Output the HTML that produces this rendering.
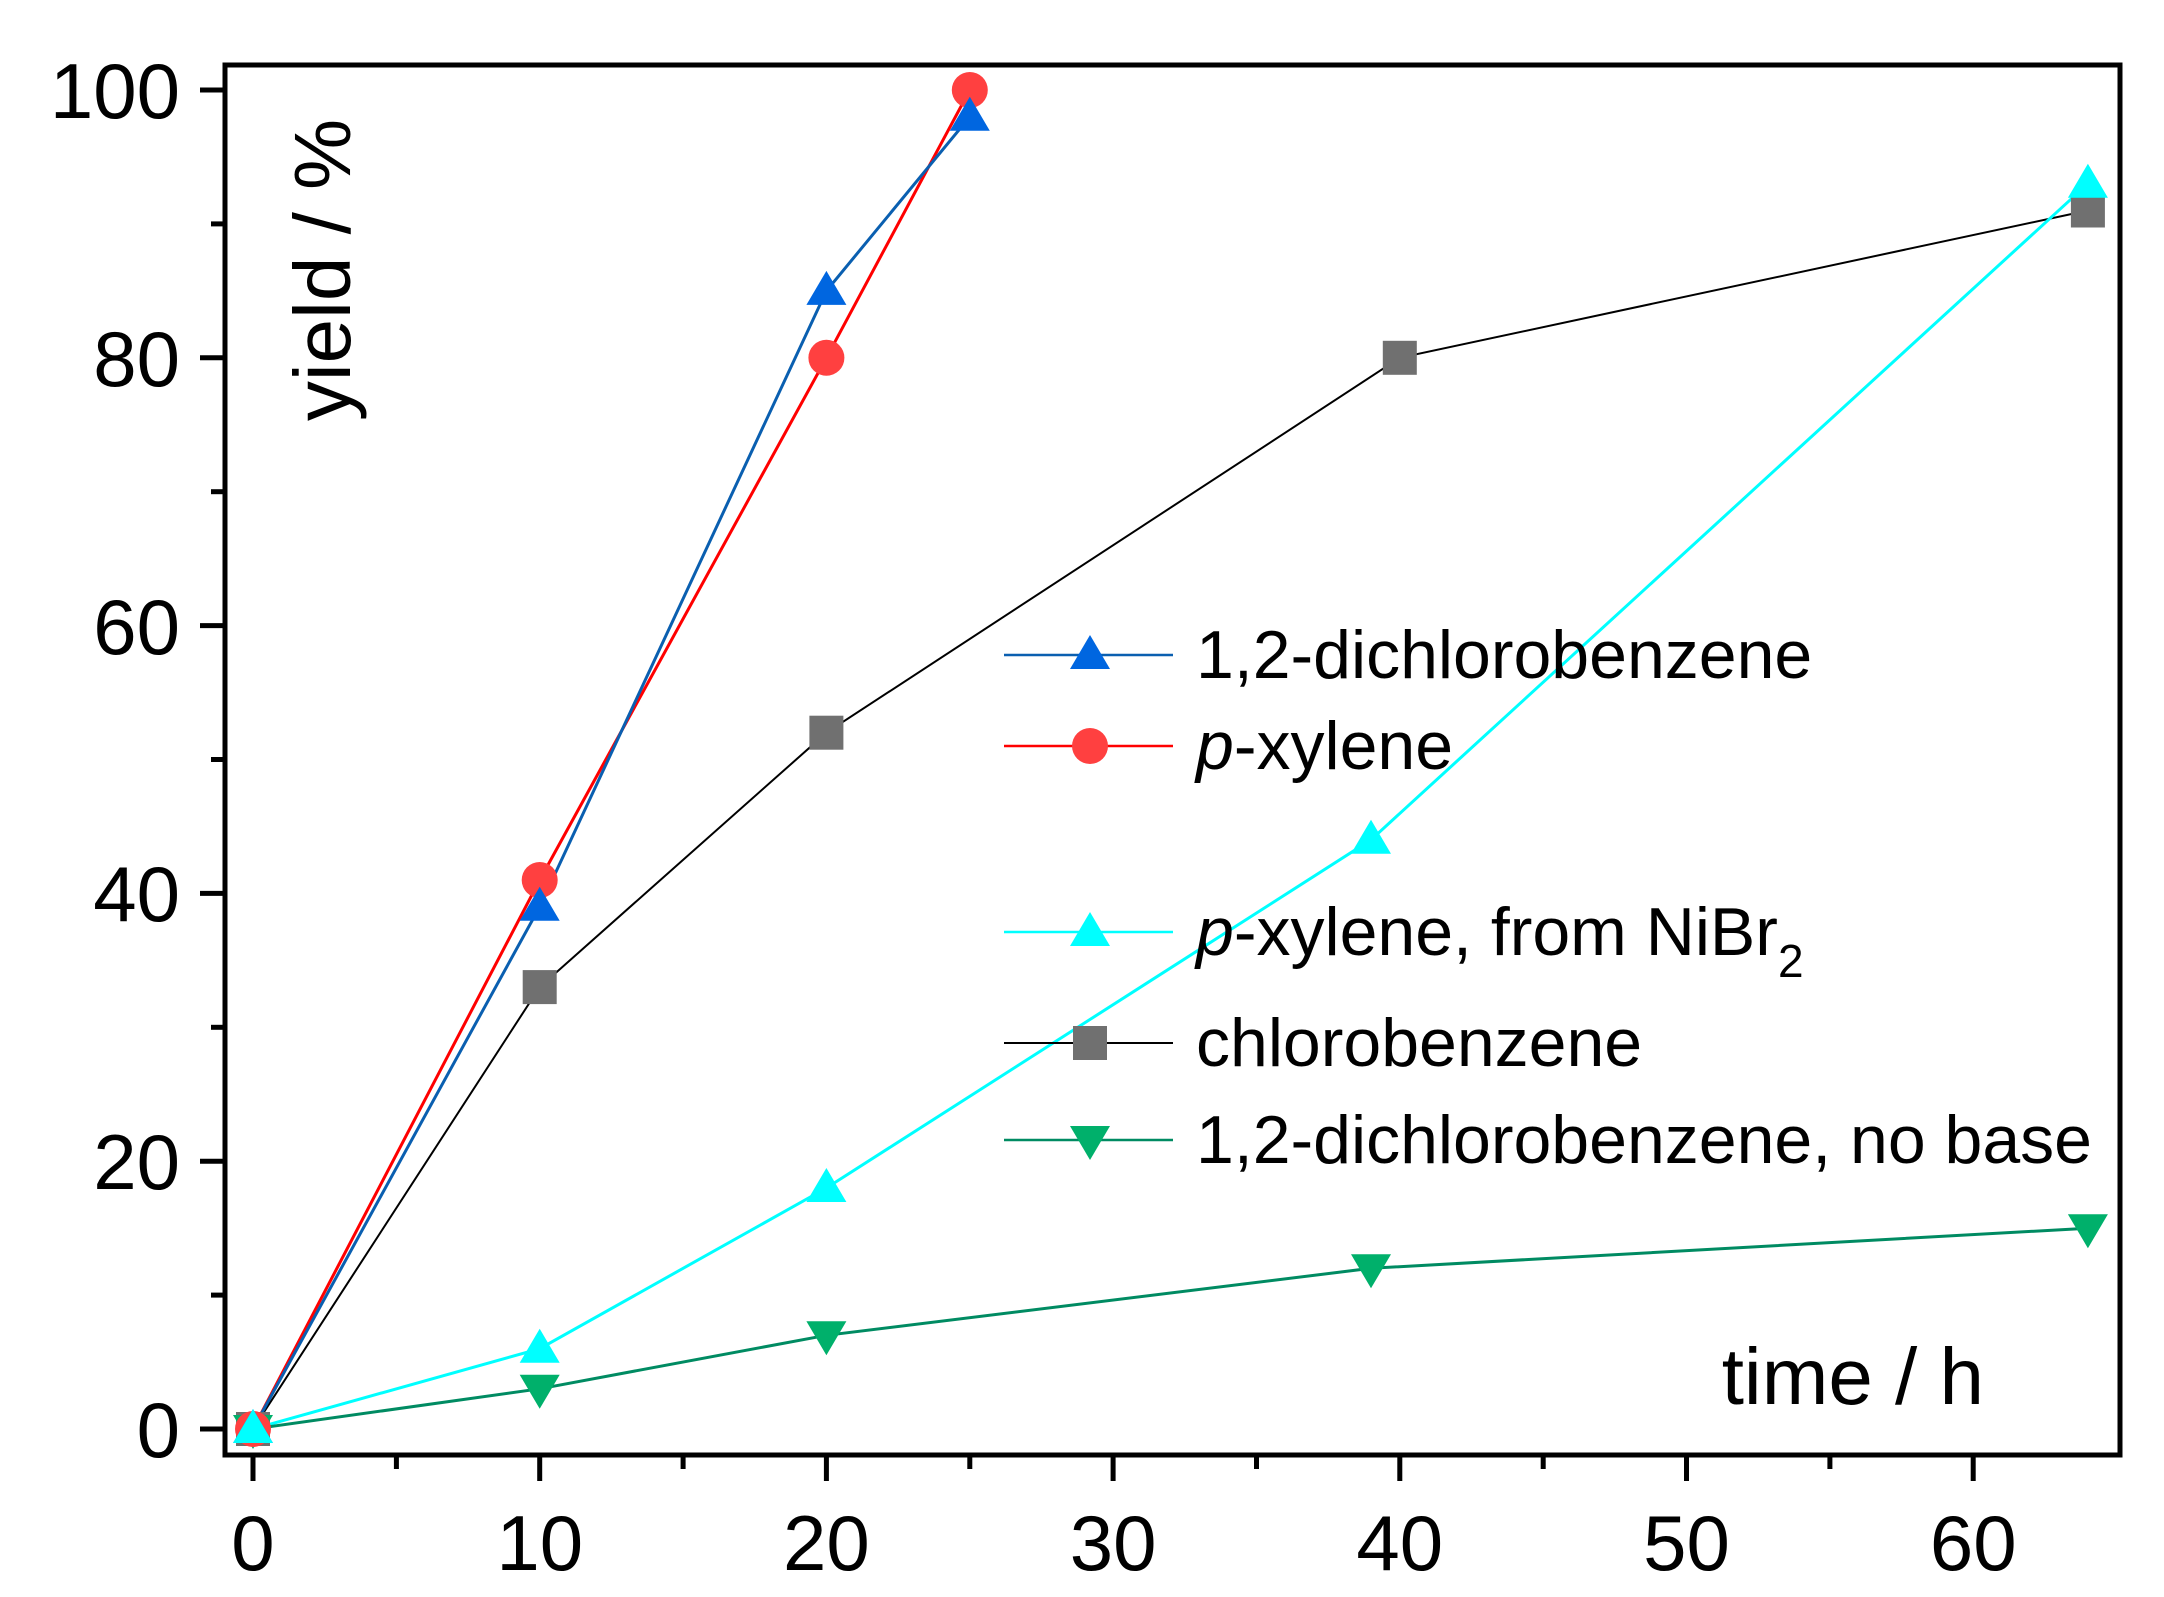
<!DOCTYPE html>
<html><head><meta charset="utf-8"><style>html,body{margin:0;padding:0;background:#fff}</style></head>
<body>
<svg width="2164" height="1592" viewBox="0 0 2164 1592" xmlns="http://www.w3.org/2000/svg" font-family="Liberation Sans, Arial, sans-serif">
<rect width="2164" height="1592" fill="#fff"/>
<rect x="225" y="65" width="1895" height="1390" fill="none" stroke="#000" stroke-width="5"/>
<g stroke="#000" stroke-width="5">
<line x1="200" y1="1429" x2="225" y2="1429"/><line x1="200" y1="1161.2" x2="225" y2="1161.2"/><line x1="200" y1="893.4" x2="225" y2="893.4"/><line x1="200" y1="625.6" x2="225" y2="625.6"/><line x1="200" y1="357.8" x2="225" y2="357.8"/><line x1="200" y1="90" x2="225" y2="90"/>
<line x1="211" y1="1295.1" x2="225" y2="1295.1"/><line x1="211" y1="1027.3" x2="225" y2="1027.3"/><line x1="211" y1="759.5" x2="225" y2="759.5"/><line x1="211" y1="491.7" x2="225" y2="491.7"/><line x1="211" y1="223.9" x2="225" y2="223.9"/>
<line x1="253" y1="1455" x2="253" y2="1481"/><line x1="539.7" y1="1455" x2="539.7" y2="1481"/><line x1="826.4" y1="1455" x2="826.4" y2="1481"/><line x1="1113.1" y1="1455" x2="1113.1" y2="1481"/><line x1="1399.8" y1="1455" x2="1399.8" y2="1481"/><line x1="1686.5" y1="1455" x2="1686.5" y2="1481"/><line x1="1973.2" y1="1455" x2="1973.2" y2="1481"/>
<line x1="396.4" y1="1455" x2="396.4" y2="1469"/><line x1="683.1" y1="1455" x2="683.1" y2="1469"/><line x1="969.8" y1="1455" x2="969.8" y2="1469"/><line x1="1256.5" y1="1455" x2="1256.5" y2="1469"/><line x1="1543.2" y1="1455" x2="1543.2" y2="1469"/><line x1="1829.9" y1="1455" x2="1829.9" y2="1469"/>
</g>
<g font-size="78" text-anchor="end" fill="#000">
<text x="180" y="1457">0</text><text x="180" y="1189">20</text><text x="180" y="921">40</text><text x="180" y="654">60</text><text x="180" y="386">80</text><text x="180" y="118">100</text>
</g>
<g font-size="78" text-anchor="middle" fill="#000">
<text x="253" y="1570">0</text><text x="539.7" y="1570">10</text><text x="826.4" y="1570">20</text><text x="1113.1" y="1570">30</text><text x="1399.8" y="1570">40</text><text x="1686.5" y="1570">50</text><text x="1973.2" y="1570">60</text>
</g>
<text x="1984" y="1404" font-size="80" text-anchor="end">time / h</text>
<text transform="translate(350,270) rotate(-90)" font-size="80" text-anchor="middle">yield / %</text>
<polyline points="253,1429 539.7,987.1 826.4,732.7 1399.8,357.8 2087.9,210.5" fill="none" stroke="#000" stroke-width="2"/>
<polyline points="253,1429 539.7,1348.7 826.4,1188 1371,839.8 2087.9,183.7" fill="none" stroke="#00ffff" stroke-width="3"/>
<polyline points="253,1429 539.7,1388.8 826.4,1335.3 1371,1268.3 2087.9,1228.2" fill="none" stroke="#008b62" stroke-width="3"/>
<polyline points="253,1429 539.7,880 826.4,357.8 969.8,90" fill="none" stroke="#ff0000" stroke-width="3"/>
<polyline points="253,1429 539.7,906.8 826.4,290.9 969.8,116.8" fill="none" stroke="#0a5fb0" stroke-width="3"/>
<g fill="#707070">
<rect x="236" y="1412" width="34" height="34"/><rect x="522.7" y="970.1" width="34" height="34"/><rect x="809.4" y="715.7" width="34" height="34"/><rect x="1382.8" y="340.8" width="34" height="34"/><rect x="2070.9" y="193.5" width="34" height="34"/>
</g>
<g fill="#00b06b">
<polygon points="233,1415 273,1415 253,1449"/><polygon points="519.7,1374.8 559.7,1374.8 539.7,1408.8"/><polygon points="806.4,1321.3 846.4,1321.3 826.4,1355.3"/><polygon points="1351,1254.3 1391,1254.3 1371,1288.3"/><polygon points="2067.9,1214.2 2107.9,1214.2 2087.9,1248.2"/>
</g>
<g fill="#ff4040">
<circle cx="253" cy="1429" r="18"/><circle cx="539.7" cy="880" r="18"/><circle cx="826.4" cy="357.8" r="18"/><circle cx="969.8" cy="90" r="18"/>
</g>
<g fill="#0066e0">
<polygon points="233,1443 273,1443 253,1409"/><polygon points="519.7,920.8 559.7,920.8 539.7,886.8"/><polygon points="806.4,304.9 846.4,304.9 826.4,270.9"/><polygon points="949.8,130.8 989.8,130.8 969.8,96.8"/>
</g>
<g fill="#00ffff">
<polygon points="233,1443 273,1443 253,1409"/><polygon points="519.7,1362.7 559.7,1362.7 539.7,1328.7"/><polygon points="806.4,1202 846.4,1202 826.4,1168"/><polygon points="1351,853.8 1391,853.8 1371,819.8"/><polygon points="2067.9,197.7 2107.9,197.7 2087.9,163.7"/>
</g>
<line x1="1004" y1="655" x2="1173" y2="655" stroke="#0a5fb0" stroke-width="2.5"/>
<polygon points="1070,669 1110,669 1090,635" fill="#0066e0"/>
<line x1="1004" y1="746" x2="1173" y2="746" stroke="#ff0000" stroke-width="2.5"/>
<circle cx="1090" cy="746" r="18" fill="#ff4040"/>
<line x1="1004" y1="932" x2="1173" y2="932" stroke="#00ffff" stroke-width="2.5"/>
<polygon points="1070,946 1110,946 1090,912" fill="#00ffff"/>
<line x1="1004" y1="1043" x2="1173" y2="1043" stroke="#000" stroke-width="2"/>
<rect x="1073" y="1026" width="34" height="34" fill="#707070"/>
<line x1="1004" y1="1140" x2="1173" y2="1140" stroke="#008b62" stroke-width="2.5"/>
<polygon points="1070,1126 1110,1126 1090,1160" fill="#00b06b"/>
<g font-size="68" fill="#000">
<text x="1196" y="678">1,2-dichlorobenzene</text>
<text x="1196" y="769"><tspan font-style="italic">p</tspan>-xylene</text>
<text x="1196" y="955"><tspan font-style="italic">p</tspan>-xylene, from NiBr<tspan font-size="46" dy="22">2</tspan></text>
<text x="1196" y="1066">chlorobenzene</text>
<text x="1196" y="1163">1,2-dichlorobenzene, no base</text>
</g>
</svg>
</body></html>
